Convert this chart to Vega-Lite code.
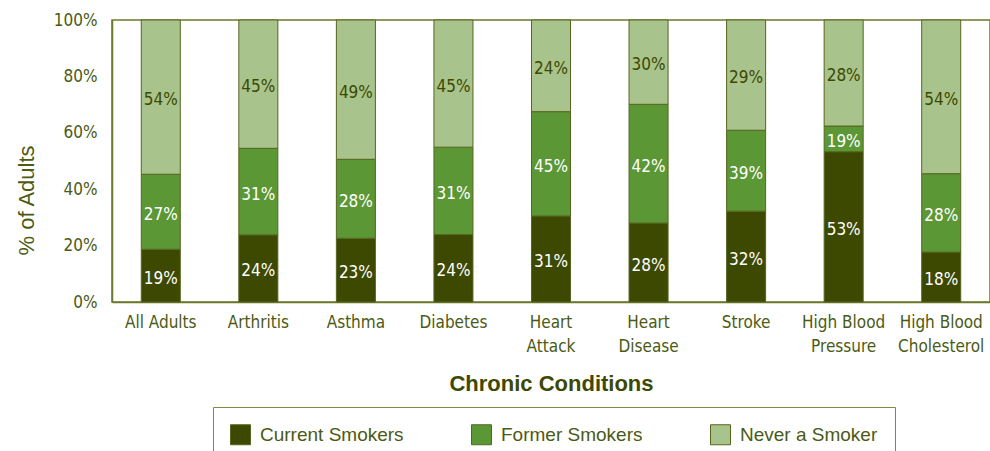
{
  "$schema": "https://vega.github.io/schema/vega-lite/v6.json",
  "autosize": "none",
  "width": 878,
  "height": 282,
  "padding": {"left": 112, "top": 20, "right": 0, "bottom": 149},
  "background": "white",
  "config": {
    "view": {"stroke": "#6b7a2a", "strokeWidth": 1.5},
    "axis": {"grid": false, "ticks": false, "domainColor": "#6b7a2a", "domainWidth": 1.5}
  },
  "data": {
    "values": [
      {"condition": "All Adults", "status": "Current Smokers", "share": 18.7, "label": "19%"},
      {"condition": "All Adults", "status": "Former Smokers", "share": 26.6, "label": "27%"},
      {"condition": "All Adults", "status": "Never a Smoker", "share": 54.7, "label": "54%"},
      {"condition": "Arthritis", "status": "Current Smokers", "share": 23.8, "label": "24%"},
      {"condition": "Arthritis", "status": "Former Smokers", "share": 30.7, "label": "31%"},
      {"condition": "Arthritis", "status": "Never a Smoker", "share": 45.5, "label": "45%"},
      {"condition": "Asthma", "status": "Current Smokers", "share": 22.6, "label": "23%"},
      {"condition": "Asthma", "status": "Former Smokers", "share": 28.0, "label": "28%"},
      {"condition": "Asthma", "status": "Never a Smoker", "share": 49.4, "label": "49%"},
      {"condition": "Diabetes", "status": "Current Smokers", "share": 23.9, "label": "24%"},
      {"condition": "Diabetes", "status": "Former Smokers", "share": 31.0, "label": "31%"},
      {"condition": "Diabetes", "status": "Never a Smoker", "share": 45.1, "label": "45%"},
      {"condition": "Heart Attack", "status": "Current Smokers", "share": 30.5, "label": "31%"},
      {"condition": "Heart Attack", "status": "Former Smokers", "share": 37.0, "label": "45%"},
      {"condition": "Heart Attack", "status": "Never a Smoker", "share": 32.5, "label": "24%"},
      {"condition": "Heart Disease", "status": "Current Smokers", "share": 28.0, "label": "28%"},
      {"condition": "Heart Disease", "status": "Former Smokers", "share": 42.1, "label": "42%"},
      {"condition": "Heart Disease", "status": "Never a Smoker", "share": 29.9, "label": "30%"},
      {"condition": "Stroke", "status": "Current Smokers", "share": 32.2, "label": "32%"},
      {"condition": "Stroke", "status": "Former Smokers", "share": 28.7, "label": "39%"},
      {"condition": "Stroke", "status": "Never a Smoker", "share": 39.1, "label": "29%"},
      {"condition": "High Blood Pressure", "status": "Current Smokers", "share": 53.3, "label": "53%"},
      {"condition": "High Blood Pressure", "status": "Former Smokers", "share": 9.1, "label": "19%"},
      {"condition": "High Blood Pressure", "status": "Never a Smoker", "share": 37.6, "label": "28%"},
      {"condition": "High Blood Cholesterol", "status": "Current Smokers", "share": 17.7, "label": "18%"},
      {"condition": "High Blood Cholesterol", "status": "Former Smokers", "share": 27.8, "label": "28%"},
      {"condition": "High Blood Cholesterol", "status": "Never a Smoker", "share": 54.5, "label": "54%"}
    ]
  },
  "encoding": {
    "x": {
      "field": "condition",
      "type": "nominal",
      "sort": null,
      "scale": {"paddingInner": 0.6, "paddingOuter": 0.3},
      "axis": {
        "title": "Chronic Conditions",
        "labelAngle": 0,
        "labelFont": "'Liberation Sans Narrow', 'DejaVu Sans Condensed', 'Liberation Sans', sans-serif",
        "labelFontSize": 17,
        "labelColor": "#4b5a14",
        "labelPadding": 12,
        "labelBaseline": "top",
        "labelLineHeight": 24,
        "labelExpr": "datum.label == 'All Adults' ? datum.label : (lastindexof(datum.label, ' ') > 0 ? [substring(datum.label, 0, lastindexof(datum.label, ' ')), substring(datum.label, lastindexof(datum.label, ' ') + 1)] : datum.label)",
        "titleFont": "Liberation Sans",
        "titleFontWeight": "bold",
        "titleFontSize": 22,
        "titleColor": "#3d4800",
        "titleBaseline": "alphabetic",
        "titleY": 88
      }
    },
    "y": {
      "field": "share",
      "type": "quantitative",
      "stack": "zero",
      "scale": {"domain": [0, 100]},
      "axis": {
        "title": "% of Adults",
        "values": [0, 20, 40, 60, 80, 100],
        "labelExpr": "datum.value + '%'",
        "labelFont": "'Liberation Sans Narrow', 'DejaVu Sans Condensed', 'Liberation Sans', sans-serif",
        "labelFontSize": 17,
        "labelColor": "#4b5a14",
        "labelPadding": 15,
        "titleFont": "Liberation Sans",
        "titleFontWeight": "normal",
        "titleFontSize": 22,
        "titleColor": "#4b5a14",
        "titleAngle": 270,
        "titleAlign": "center",
        "titleBaseline": "alphabetic",
        "titleX": -79,
        "titleY": 180
      }
    },
    "order": {"field": "status", "sort": "ascending"}
  },
  "layer": [
    {
      "mark": {"type": "bar", "stroke": "#56661e", "strokeWidth": 1},
      "encoding": {
        "color": {
          "field": "status",
          "type": "nominal",
          "scale": {
            "domain": ["Current Smokers", "Former Smokers", "Never a Smoker"],
            "range": ["#3d4800", "#5b9735", "#a8c48c"]
          },
          "legend": {
            "title": null,
            "orient": "none",
            "direction": "horizontal",
            "legendX": 101,
            "legendY": 387,
            "padding": 17,
            "strokeColor": "#7d8a45",
            "symbolType": "square",
            "symbolSize": 400,
            "symbolStrokeColor": "#56661e",
            "symbolStrokeWidth": 1,
            "labelFont": "Liberation Sans",
            "labelFontSize": 19,
            "labelColor": "#4b5a14",
            "labelOffset": 9,
            "columnPadding": 65,
            "labelLimit": 300
          }
        }
      }
    },
    {
      "mark": {"type": "text", "font": "'Liberation Sans Narrow', 'DejaVu Sans Condensed', 'Liberation Sans', sans-serif", "fontSize": 17, "baseline": "middle", "dy": 3},
      "encoding": {
        "y": {"field": "share", "type": "quantitative", "stack": "zero", "bandPosition": 0.5},
        "detail": {"field": "status"},
        "text": {"field": "label"},
        "color": {
          "condition": {"test": "datum.status == 'Never a Smoker'", "value": "#3d4800"},
          "value": "white"
        }
      }
    }
  ]
}
